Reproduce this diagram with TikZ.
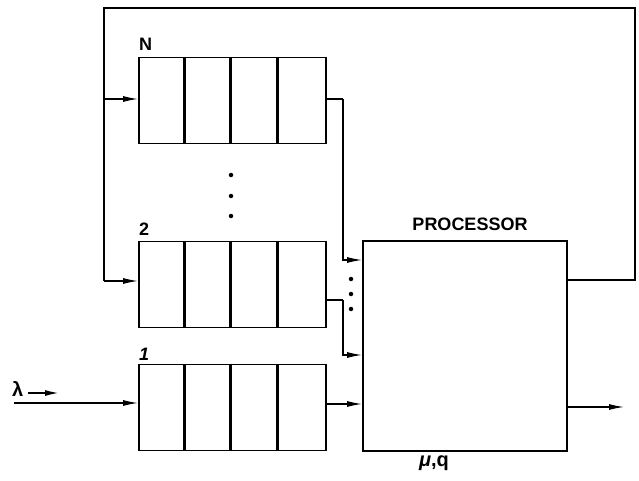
\documentclass[tikz,border=0pt]{standalone}
\usepackage{fontspec}
\setmainfont{Liberation Sans}
\usetikzlibrary{arrows.meta}
\begin{document}
\begin{tikzpicture}[x=1pt,y=-1pt,
  queuebox/.style={draw,line width=1.8pt,minimum width=187pt,minimum height=86pt,inner sep=0pt},
  procbox/.style={draw,line width=1.8pt,minimum width=204pt,minimum height=210pt,inner sep=0pt},
  divider/.style={line width=3pt},
  wire/.style={line width=1.2pt},
  arr/.style={wire,-{Latex[length=15pt,width=6pt]}},
  lbl/.style={font=\bfseries\fontsize{18}{18}\selectfont,inner sep=0pt},
  dotmark/.style={circle,fill,inner sep=0pt,minimum size=4.5pt}]
\useasboundingbox (0,0) rectangle (639,481);
\node[queuebox] (qN) at (232.5,100.5) {};
\node[queuebox] (qtwo) at (232.5,284.5) {};
\node[queuebox] (qone) at (232.5,407.5) {};
\node[procbox] (proc) at (465,346) {};
\foreach \q in {qN,qtwo,qone}{
  \foreach \d in {46.5,92.5,139}{
    \draw[divider] ([xshift=\d pt]\q.north west) -- ([xshift=\d pt]\q.south west);
  }
}
\node[lbl,anchor=south west] (lN) at (139,51) {N};
\node[lbl,anchor=south west] (ltwo) at (139,236) {2};
\node[lbl,anchor=south west] (lone) at (139,361) {\itshape 1};
\node[lbl,font=\bfseries\fontsize{18}{18}\selectfont] (lproc) at (470,224) {PROCESSOR};
\node[lbl,font=\bfseries\fontsize{20}{20}\selectfont] (lmu) at (434,463) {\textit{μ},q};
\node[lbl,font=\bfseries\fontsize{20}{20}\selectfont,anchor=west] (llam) at (12,389) {λ};
% feedback loop
\coordinate (fbA) at (635,280);
\coordinate (fbB) at (635,8);
\coordinate (fbC) at (104,8);
\coordinate (fbD) at (104,281);
\coordinate (fbE) at (104,99);
\draw[wire] (proc.east |- fbA) -- (fbA) -- (fbB) -- (fbC) -- (fbD);
\draw[arr] (fbD) -- (qtwo.west |- fbD);
\draw[arr] (fbE) -- (qN.west |- fbE);
% input
\coordinate (inS) at (14,403);
\draw[arr] (inS) -- (qone.west |- inS);
\coordinate (lamS) at (28,393);
\coordinate (lamE) at (60,393);
\draw[arr,line width=2pt] (lamS) -- (lamE);
% queue outputs
\coordinate (oN1) at (343,99);
\coordinate (oN2) at (343,260);
\draw[wire] (qN.east |- oN1) -- (oN1);
\draw[arr] (oN1) -- (oN2) -- (proc.west |- oN2);
\coordinate (o21) at (343,300);
\coordinate (o22) at (343,355);
\draw[wire] (qtwo.east |- o21) -- (o21);
\draw[arr] (o21) -- (o22) -- (proc.west |- o22);
\coordinate (o1) at (326,404);
\draw[arr] (o1) -- (proc.west |- o1);
% processor output
\coordinate (pout) at (624,407);
\draw[arr] (proc.east |- pout) -- (pout);
% dots
\node[dotmark] (d1) at (231,175) {};
\node[dotmark] (d2) at (231,196) {};
\node[dotmark] (d3) at (231,216) {};
\node[dotmark] (e1) at (351,279) {};
\node[dotmark] (e2) at (351,294) {};
\node[dotmark] (e3) at (351,309) {};
\end{tikzpicture}
\end{document}
